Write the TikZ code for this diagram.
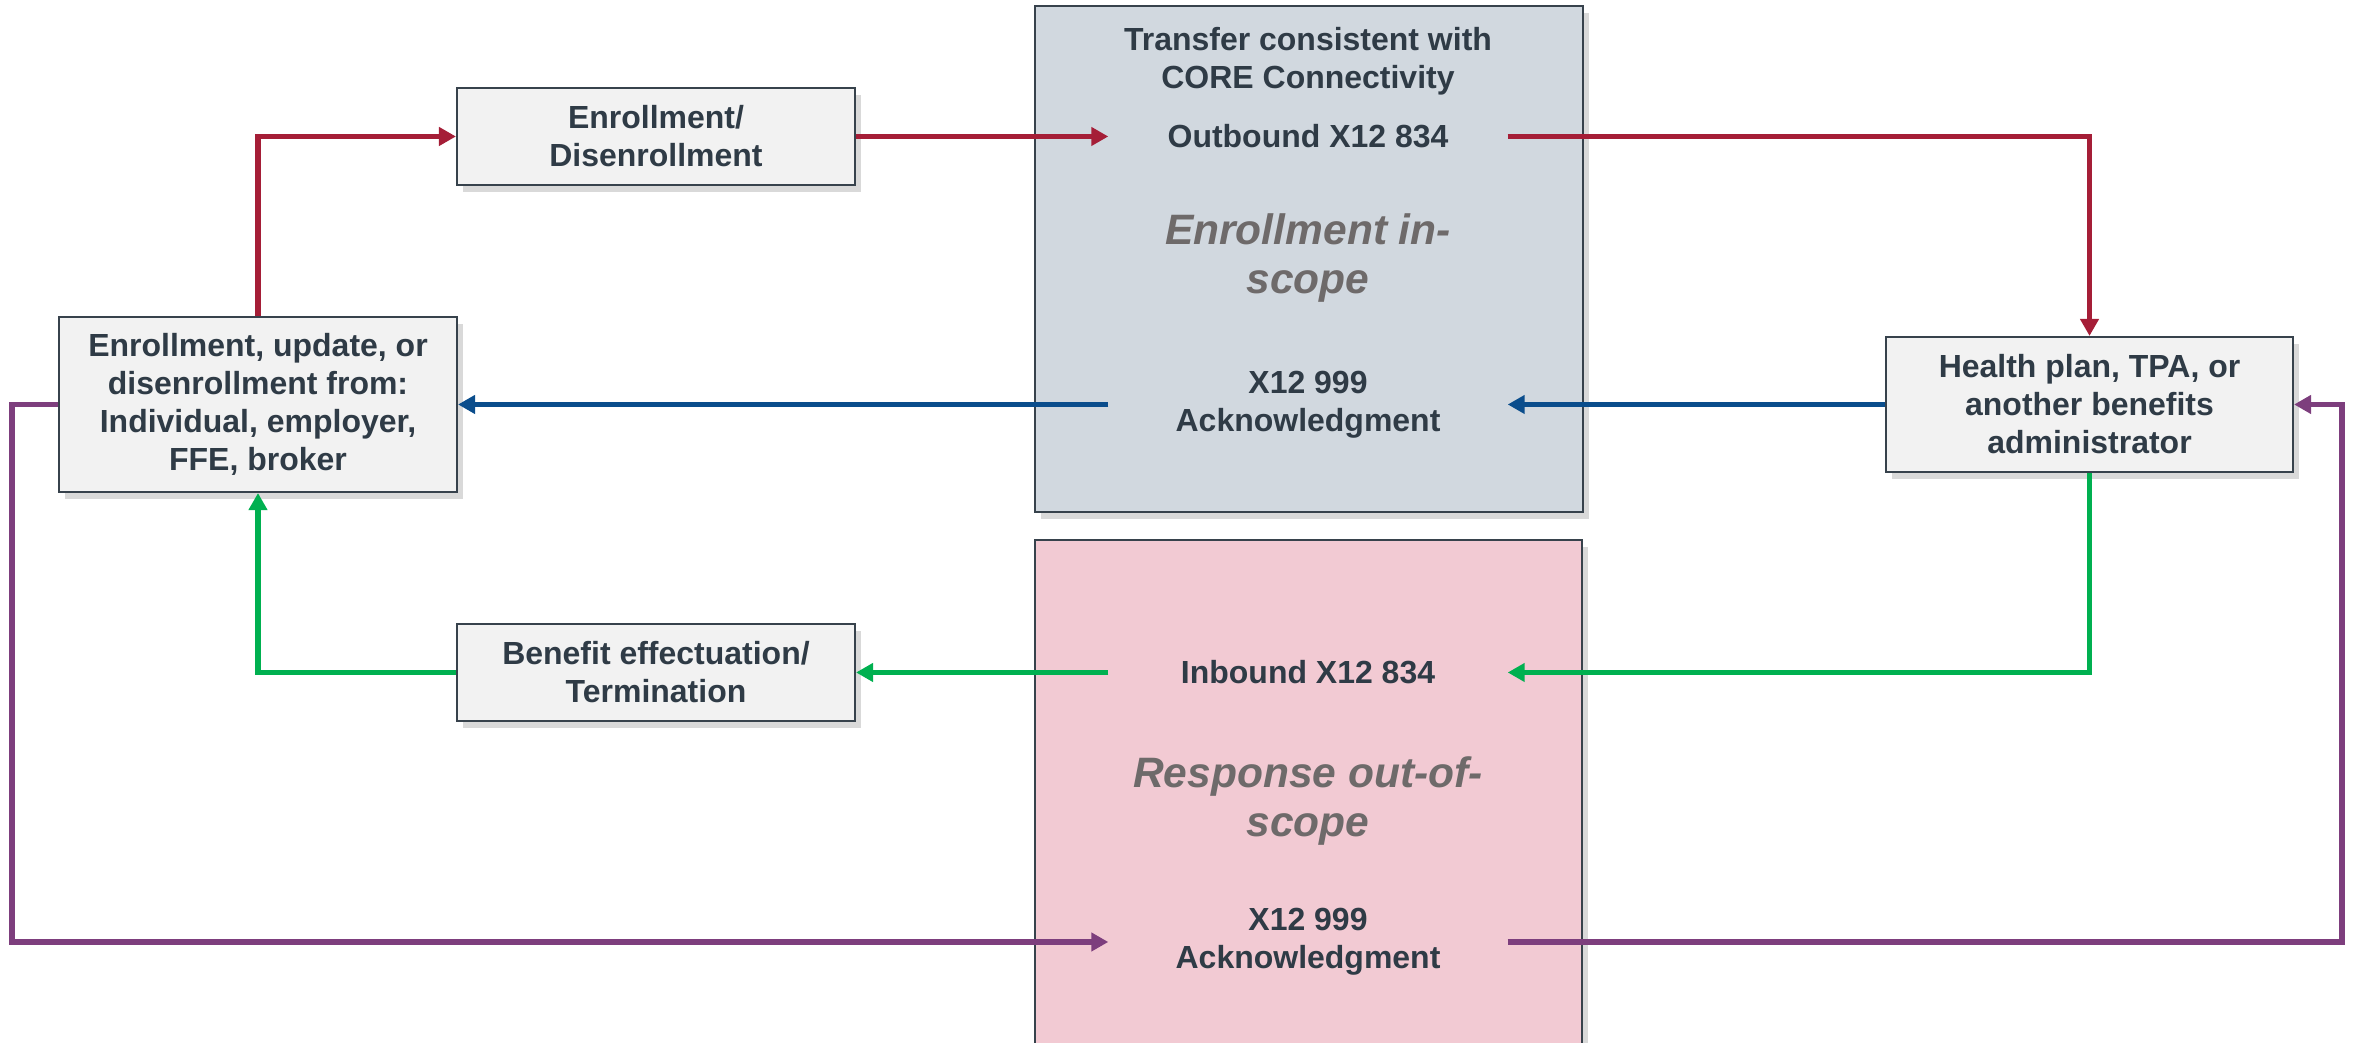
\documentclass[tikz,border=0pt]{standalone}
\usepackage{fontspec}
\setmainfont{Liberation Sans}
\usetikzlibrary{arrows.meta,positioning,shadows}

\definecolor{ink}{RGB}{47,59,70}
\definecolor{edge}{RGB}{55,66,76}
\definecolor{boxfill}{RGB}{242,242,242}
\definecolor{inscope}{RGB}{209,216,223}
\definecolor{outscope}{RGB}{242,202,211}
\definecolor{scopetext}{RGB}{110,106,106}
\definecolor{enrolred}{RGB}{165,30,55}
\definecolor{ackblue}{RGB}{10,77,140}
\definecolor{effgreen}{RGB}{0,176,80}
\definecolor{ackpurple}{RGB}{125,62,125}

\begin{document}
\begin{tikzpicture}[>={Triangle[length=1.7mm,width=1.8mm]},
    box/.style={draw=edge, line width=0.6pt, fill=boxfill, text=ink,
      font=\bfseries\fontsize{9.1}{10.8}\selectfont, align=center, inner sep=0pt,
      drop shadow={shadow xshift=0.6mm, shadow yshift=-0.7mm, opacity=0.3}},
    zone/.style={draw=edge, line width=0.7pt,
      drop shadow={shadow xshift=0.6mm, shadow yshift=-0.7mm, opacity=0.3}},
    msg/.style={text=ink, font=\bfseries\fontsize{9.1}{10.8}\selectfont,
      align=center, inner sep=0pt, minimum width=3.98cm},
    scopelabel/.style={text=scopetext,
      font=\bfseries\itshape\fontsize{12.1}{14.2}\selectfont, align=center},
    flow/.style={->, line width=1.5pt}]
  \useasboundingbox (0,0) rectangle (23.53,10.43);

  % the two scope areas
  \begin{scope}
    \clip (0,0) rectangle (23.53,10.43);
    \draw[zone, fill=inscope] (10.35,5.31) rectangle (15.83,10.37);
    \draw[zone, fill=outscope] (10.35,-0.3) rectangle (15.82,5.03);
  \end{scope}

  \node[msg] (title) at (13.08,9.82) {Transfer consistent with\\CORE Connectivity};
  \node[msg] (out834) at (13.08,9.065) {Outbound X12 834};
  \node[scopelabel] (inlbl) at (13.08,7.85) {Enrollment in-\\scope};
  \node[msg] (ack1) at (13.08,6.385) {X12 999\\Acknowledgment};

  \node[msg] (in834) at (13.08,3.705) {Inbound X12 834};
  \node[scopelabel] (outlbl) at (13.08,2.42) {Response out-of-\\scope};
  \node[msg] (ack2) at (13.08,1.01) {X12 999\\Acknowledgment};

  % parties and documents
  \node[box, minimum width=3.98cm, minimum height=1.75cm] (src) at (2.58,6.385)
    {Enrollment, update, or\\disenrollment from:\\Individual, employer,\\FFE, broker};
  \node[box, minimum width=3.98cm, minimum height=0.97cm] (enrol) at (6.56,9.065)
    {Enrollment/\\Disenrollment};
  \node[box, minimum width=3.98cm, minimum height=0.97cm] (benefit) at (6.56,3.705)
    {Benefit effectuation/\\Termination};
  \node[box, minimum width=4.07cm, minimum height=1.35cm] (health) at (20.895,6.385)
    {Health plan, TPA, or\\another benefits\\administrator};

  \coordinate (pleft) at (0.12,1.01);
  \coordinate (pright) at (23.42,1.01);

  % outbound 834
  \draw[flow, enrolred] (src.north) |- (enrol.west);
  \draw[flow, enrolred] (enrol.east) -- (out834.west);
  \draw[flow, enrolred] (out834.east) -| (health.north);
  % 999 on outbound
  \draw[flow, ackblue] (health.west) -- (ack1.east);
  \draw[flow, ackblue] (ack1.west) -- (src.east);
  % inbound 834
  \draw[flow, effgreen] (health.south) |- (in834.east);
  \draw[flow, effgreen] (in834.west) -- (benefit.east);
  \draw[flow, effgreen] (benefit.west) -| (src.south);
  % 999 on inbound
  \draw[flow, ackpurple] (src.west) -| (pleft) -- (ack2.west);
  \draw[flow, ackpurple] (ack2.east) -- (pright) |- (health.east);
\end{tikzpicture}
\end{document}
